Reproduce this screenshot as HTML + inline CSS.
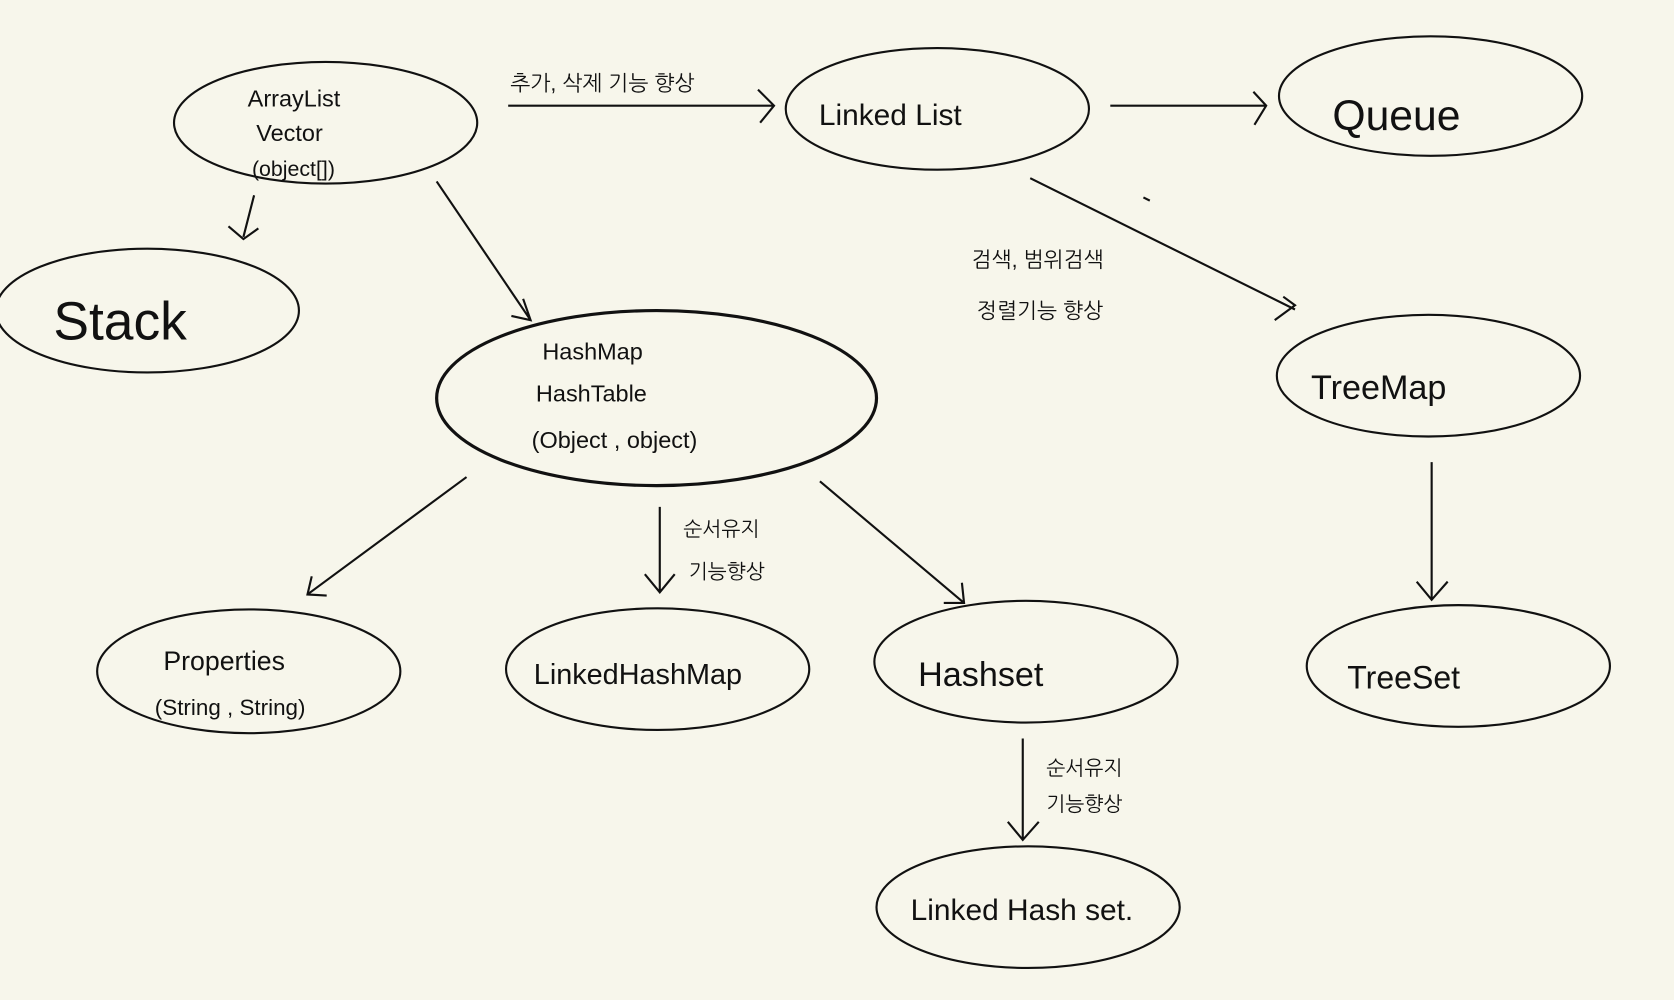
<!DOCTYPE html>
<html><head><meta charset="utf-8"><style>
html,body{margin:0;padding:0;background:#f7f6eb;}
svg{display:block}
text{font-family:"Liberation Sans","NanumGothic","Noto Sans CJK KR",sans-serif;fill:#111;}
</style></head><body>
<svg width="1674" height="1000" viewBox="0 0 1568 937" preserveAspectRatio="none" xmlns="http://www.w3.org/2000/svg">
<rect width="1568" height="937" fill="#f7f6eb"/>
<g fill="none" stroke="#111" stroke-width="2">
<ellipse cx="305" cy="115" rx="142" ry="57"/>
<ellipse cx="878" cy="102" rx="142" ry="57"/>
<ellipse cx="1340" cy="90" rx="142" ry="56"/>
<ellipse cx="138" cy="291" rx="142" ry="58"/>
<ellipse cx="615" cy="373" rx="206" ry="82" stroke-width="3"/>
<ellipse cx="1338" cy="352" rx="142" ry="57"/>
<ellipse cx="233" cy="629" rx="142" ry="58"/>
<ellipse cx="616" cy="627" rx="142" ry="57"/>
<ellipse cx="961" cy="620" rx="142" ry="57"/>
<ellipse cx="1366" cy="624" rx="142" ry="57"/>
<ellipse cx="963" cy="850" rx="142" ry="57"/>
<!-- arrows -->
<path d="M476 99 L725 99 M710 84 L725 99 L712 115"/>
<path d="M1040 99 L1186 99 M1174 86 L1186 99 L1175 117"/>
<path d="M965 167 L1213 290 M1202 278 L1213 286 L1194 300"/>
<path d="M238 183 L228 222 M214 212 L228 224 L242 214"/>
<path d="M409 170 L497 300 M490 280 L497 300 L479 296"/>
<path d="M437 447 L288 557 M292 540 L288 557 L306 558"/>
<path d="M618 475 L618 555 M604 538 L618 555 L632 538"/>
<path d="M768 451 L903 565 M901 546 L903 565 L884 565"/>
<path d="M1341 433 L1341 562 M1327 545 L1341 562 L1356 545"/>
<path d="M958 692 L958 787 M944 770 L958 787 L973 770"/>
<path d="M1071 185 L1077 188"/>
</g>
<text x="232" y="100" font-size="22">ArrayList</text>
<text x="240" y="132" font-size="22">Vector</text>
<text x="236" y="165" font-size="20">(object[])</text>
<text x="478" y="85" font-size="20">추가, 삭제 기능 향상</text>
<text x="767" y="117" font-size="28">Linked  List</text>
<text x="1248" y="122" font-size="40">Queue</text>
<text x="50" y="318" font-size="50">Stack</text>
<text x="508" y="337" font-size="22">HashMap</text>
<text x="502" y="376" font-size="22">HashTable</text>
<text x="498" y="420" font-size="22">(Object , object)</text>
<text x="910" y="250" font-size="20">검색, 범위검색</text>
<text x="915" y="298" font-size="20">정렬기능 향상</text>
<text x="1228" y="374" font-size="32">TreeMap</text>
<text x="153" y="628" font-size="25">Properties</text>
<text x="145" y="670" font-size="21">(String , String)</text>
<text x="640" y="502" font-size="19">순서유지</text>
<text x="645" y="542" font-size="19">기능향상</text>
<text x="500" y="641" font-size="27">LinkedHashMap</text>
<text x="860" y="643" font-size="32">Hashset</text>
<text x="1262" y="645" font-size="30">TreeSet</text>
<text x="980" y="726" font-size="19">순서유지</text>
<text x="980" y="760" font-size="19">기능향상</text>
<text x="853" y="862" font-size="28">Linked Hash set.</text>
</svg>
</body></html>
